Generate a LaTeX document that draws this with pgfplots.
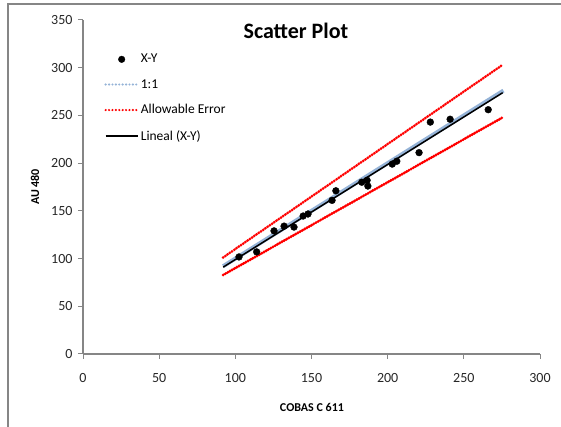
\documentclass[border=0pt]{standalone}
\usepackage{pgfplots}
\pgfplotsset{compat=1.18}
\usepackage{fontspec}
\setmainfont{Carlito}
\definecolor{axgray}{RGB}{134,134,134}
\definecolor{lblue}{RGB}{149,179,215}
\definecolor{xred}{RGB}{255,0,0}
\begin{document}
\begin{tikzpicture}[x=1pt,y=1pt]
\useasboundingbox (0,0) rectangle (561,427);
\draw[axgray, line width=1.5pt] (8,0) -- (8,423) -- (561,423);
\begin{axis}[
  at={(83pt,73pt)}, anchor=south west,
  scale only axis, width=457pt, height=334pt,
  xmin=0, xmax=300, ymin=0, ymax=350,
  xtick={0,50,...,300}, ytick={0,50,...,350},
  axis x line*=bottom, axis y line*=left,
  axis line style={axgray, line width=1.1pt},
  tick style={axgray, line width=1pt},
  tick align=outside, major tick length=5pt,
  minor tick num=0,
  /pgf/number format/assume math mode=true,
  ticklabel style={font=\fontsize{14}{16}\selectfont, text=black!85},
  xticklabel style={yshift=-11pt},
  yticklabel style={xshift=-2pt},
  title={Scatter Plot},
  title style={font=\fontsize{22}{26}\selectfont\bfseries, at={(axis description cs:0.466,0.95)}, anchor=center},
  xlabel={COBAS C 611},
  ylabel={AU 480},
  xlabel style={font=\fontsize{12}{14}\selectfont\bfseries, at={(axis description cs:0.501,-0.159)}, anchor=center},
  ylabel style={font=\fontsize{12}{14}\selectfont\bfseries, at={(axis description cs:-0.105,0.5)}, anchor=center},
  legend style={at={(axis description cs:0.04,0.91)}, anchor=north west, draw=none, fill=none,
    font=\fontsize{13.5}{15}\selectfont, row sep=11pt, legend cell align=left},
  legend image code/.code={\draw[#1] (0pt,0pt) -- (32pt,0pt);},
]
% legend entries
\addlegendimage{only marks, mark=*, black, legend image code/.code={\fill[black] (16pt,0pt) circle (3.3pt);}}
\addlegendentry{X-Y}
\addlegendimage{lblue, line width=2.4pt, line cap=round, dash pattern=on 0pt off 3.4pt}
\addlegendentry{1:1}
\addlegendimage{xred, line width=2.4pt, line cap=round, dash pattern=on 0pt off 3.4pt}
\addlegendentry{Allowable Error}
\addlegendimage{black, line width=1.5pt}
\addlegendentry{Lineal (X-Y)}
% allowable error (upper and lower)
\addplot[xred, line width=3pt, line cap=round, dash pattern=on 0pt off 2.7pt, forget plot] coordinates {(92,101.2) (275,302.5)};
\addplot[xred, line width=3.2pt, line cap=round, dash pattern=on 0pt off 2.6pt, forget plot] coordinates {(92,82.8) (275,247.5)};
% 1:1
\addplot[lblue, line width=4pt, forget plot] coordinates {(92,92) (276,276)};
% regression
\addplot[black, line width=1.5pt, forget plot] coordinates {(92,91) (275.5,273.8)};
% data
\addplot[only marks, mark=*, mark size=3.4pt, black, forget plot] coordinates {
(102.4,101.7) (114,107) (125.4,129) (132,134) (138.5,133) (144.5,144.6)
(147.7,146.7) (163.5,161) (166,171) (183,180) (186.5,182) (187,176)
(203,199) (206,202) (220.6,211) (228,243) (241,246) (266,256)
};
\end{axis}
\end{tikzpicture}
\end{document}
